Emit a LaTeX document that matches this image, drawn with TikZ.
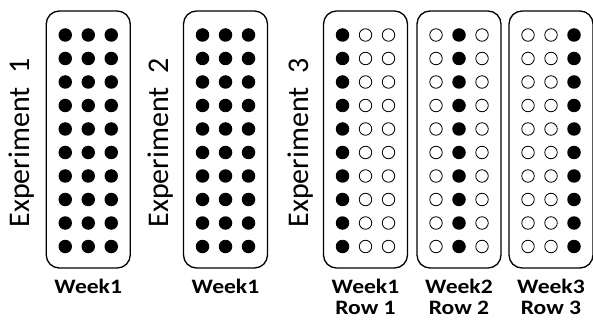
\documentclass[tikz,border=0pt]{standalone}
\usepackage{fontspec}
\setmainfont{Carlito}
\newfontfamily\labfont[FakeStretch=1.15]{Carlito}
\begin{document}
\begin{tikzpicture}[x=1pt,y=-1pt]
\tikzset{
 plate/.style={draw, line width=1.3pt, rounded corners=13pt, minimum width=84pt, minimum height=257pt, inner sep=0pt},
 fulldot/.style={circle, fill=black, minimum size=13.5pt, inner sep=0pt},
 emptydot/.style={circle, draw=black, line width=0.8pt, minimum size=12.5pt, inner sep=0pt},
 explabel/.style={rotate=90, anchor=base, inner sep=0pt, font=\fontsize{30}{36}\selectfont},
 weeklabel/.style={anchor=base, inner sep=0pt, text depth=0pt, font=\labfont\bfseries\fontsize{20.5}{24}\selectfont}
}
\useasboundingbox (0,0) rectangle (593,320);
\foreach \b/\cx/\f in {1/88.25/0, 2/225.5/0, 3/365.5/1, 4/459/2, 5/551/3} {
  \node[plate] (box\b) at (\cx,139.5) {};
  \foreach \r in {0,...,9} {
    \foreach \c in {1,2,3} {
      \ifnum\f=0 \def\st{fulldot}\else\ifnum\f=\c \def\st{fulldot}\else\def\st{emptydot}\fi\fi
      \node[\st] (d\b-\r-\c) at ({\cx+23*(\c-2)}, {35+23.5*\r}) {};
    }
  }
}
\node[explabel] (e1) at (29.5,143) {Experiment\ \ 1};
\node[explabel] (e2) at (168,143) {Experiment\ \ 2};
\node[explabel] (e3) at (308,143) {Experiment\ \ 3};
\node[weeklabel] (w1) at (88.25,293) {Week1};
\node[weeklabel] (w2) at (225.5,293) {Week1};
\node[weeklabel] (w3) at (365.5,293) {Week1};
\node[weeklabel] (w4) at (459,293) {Week2};
\node[weeklabel] (w5) at (551,293) {Week3};
\node[weeklabel] (r3) at (365.5,314.5) {Row 1};
\node[weeklabel] (r4) at (459,314.5) {Row 2};
\node[weeklabel] (r5) at (551,314.5) {Row 3};
\end{tikzpicture}
\end{document}
